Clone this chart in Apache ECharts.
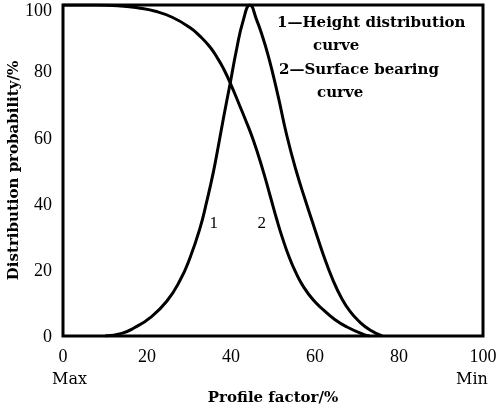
<!DOCTYPE html>
<html>
<head>
<meta charset="utf-8">
<script src="https://cdn.jsdelivr.net/npm/echarts@6/dist/echarts.min.js"></script>
<style>
  html, body { margin: 0; padding: 0; background: #fff; }
  #chart { width: 496px; height: 409px; }
</style>
</head>
<body>
<div id="chart"></div>
<script>
// Profile factor (%) and distribution probability (%) for each curve
const heightX = [10, 14, 17, 20.7, 24.7, 27.9, 30.2, 32.6, 34.2, 35.8, 37, 38.2, 39.8, 41.3, 42.9, 44.5, 46.1, 47.5, 48.9, 50.1, 51.3, 53.3, 55.5, 57.7, 59.9, 62, 64.4, 66.3, 68.3, 70.5, 73.1, 76];
const heightY = [0, 0.8, 2.5, 5.5, 10.5, 16.9, 23.5, 32.5, 40.5, 49.5, 57.5, 65.8, 76.3, 86.4, 95.3, 100, 95.5, 90.5, 84.5, 78.5, 72, 60.5, 50, 41, 32.5, 24.5, 16.5, 11.5, 7.5, 4.4, 1.8, 0];
const bearingX = [0, 8, 13, 18, 22, 26, 30.2, 32.6, 35, 37, 38.2, 39.8, 42.1, 43.3, 45.3, 47.5, 49.4, 50.9, 52.2, 53.8, 55.5, 57.2, 59.5, 62, 64.7, 67.5, 71.5, 73];
const bearingY = [100, 100, 99.8, 99.1, 98.1, 96.3, 93.2, 90.6, 87.3, 83.5, 80.8, 76.5, 69.5, 65.8, 59.2, 50.5, 42, 35.2, 29.8, 24, 19, 15, 11, 7.9, 5, 2.8, 0.5, 0];
const xTicks = [0, 20, 40, 60, 80, 100];
const yTicks = [0, 20, 40, 60, 80, 100];
const curveTags = [
  { name: '1', x: 35.9, y: 34 },
  { name: '2', x: 47.3, y: 34 }
];
const legendLines = [
  '1\u2014Height distribution',
  'curve',
  '2\u2014Surface bearing',
  'curve'
];

const pairs = (xs, ys) => xs.map((x, i) => [x, ys[i]]);
const serif = '"Liberation Serif", "DejaVu Serif", serif';
const wide = '"DejaVu Serif", serif';

const chart = echarts.init(document.getElementById('chart'), null, { renderer: 'canvas' });

const curve = (name, data, tag) => ({
  name, type: 'line', smooth: 0.5,
  showSymbol: false, clip: true, data,
  lineStyle: { color: '#000', width: 3 },
  markPoint: {
    symbol: 'circle', symbolSize: 0,
    label: { show: true, formatter: '{b}', color: '#000', fontFamily: serif, fontSize: 17 },
    data: [{ name: tag.name, coord: [tag.x, tag.y] }]
  }
});

const option = {
  animation: false,
  backgroundColor: '#fff',
  grid: {
    left: 63, right: 13, top: 5, bottom: 73,
    outerBoundsMode: 'none',
    show: true, borderColor: '#000', borderWidth: 3, backgroundColor: 'transparent'
  },
  xAxis: {
    type: 'value', min: 0, max: 100, interval: 20,
    axisLine: { show: false }, axisTick: { show: false }, splitLine: { show: false },
    axisLabel: {
      margin: 12, color: '#000', fontFamily: serif, fontSize: 18,
      formatter: v => (xTicks.includes(v) ? String(v) : '')
    },
    name: 'Profile factor/%', nameLocation: 'middle', nameGap: 55,
    nameTextStyle: { color: '#000', fontFamily: wide, fontSize: 15, fontWeight: 'bold' }
  },
  yAxis: {
    type: 'value', min: 0, max: 100, interval: 20,
    axisLine: { show: false }, axisTick: { show: false }, splitLine: { show: false },
    axisLabel: {
      margin: 11, color: '#000', fontFamily: serif, fontSize: 18,
      formatter: v => {
        if (!yTicks.includes(v)) return '';
        // the top label sits a little below the frame's upper edge
        return v === 100 ? '{top|' + v + '}' : '{tick|' + v + '}';
      },
      rich: {
        top: { fontFamily: serif, fontSize: 18, color: '#000', padding: [13, 0, 0, 0] },
        tick: { fontFamily: serif, fontSize: 18, color: '#000', padding: [3, 0, 0, 0] }
      }
    },
    name: 'Distribution probability/%', nameLocation: 'middle', nameGap: 41,
    nameMoveOverlap: false,
    nameTextStyle: { color: '#000', fontFamily: wide, fontSize: 15, fontWeight: 'bold' }
  },
  series: [
    curve('Height distribution curve', pairs(heightX, heightY), curveTags[0]),
    curve('Surface bearing curve', pairs(bearingX, bearingY), curveTags[1])
  ],
  graphic: [
    { type: 'text', left: 277, top: 16, style: { text: legendLines[0], font: 'bold 15px ' + wide, fill: '#000' } },
    { type: 'text', left: 313, top: 39, style: { text: legendLines[1], font: 'bold 15px ' + wide, fill: '#000' } },
    { type: 'text', left: 279, top: 63, style: { text: legendLines[2], font: 'bold 15px ' + wide, fill: '#000' } },
    { type: 'text', left: 317, top: 86, style: { text: legendLines[3], font: 'bold 15px ' + wide, fill: '#000' } },
    { type: 'text', left: 52, top: 372, style: { text: 'Max', font: '16px ' + wide, fill: '#000' } },
    { type: 'text', left: 456, top: 372, style: { text: 'Min', font: '16px ' + wide, fill: '#000' } }
  ]
};

chart.setOption(option);
</script>
</body>
</html>
